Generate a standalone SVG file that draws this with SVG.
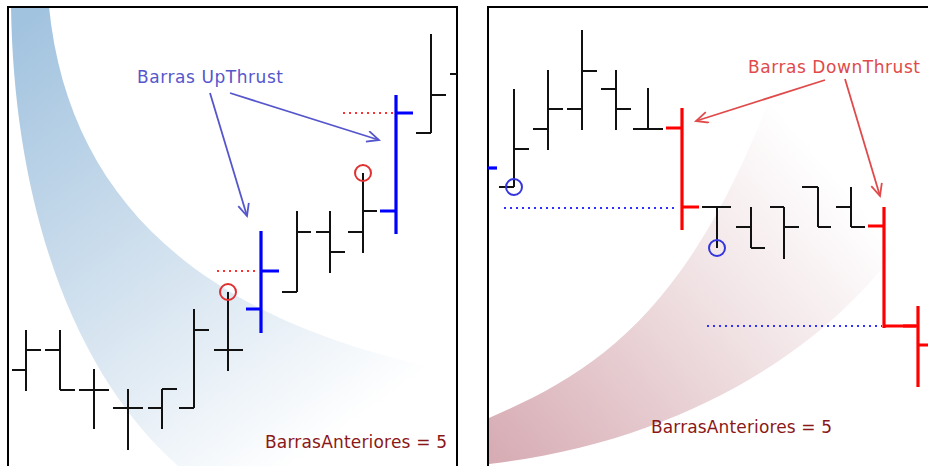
<svg xmlns="http://www.w3.org/2000/svg" width="928" height="466" viewBox="0 0 928 466">
<defs>
<linearGradient id="gBlue" gradientUnits="userSpaceOnUse" x1="30" y1="20" x2="330" y2="440">
<stop offset="0" stop-color="#a2c3df"/>
<stop offset="0.5" stop-color="#d0e0ee"/>
<stop offset="1" stop-color="#ffffff"/>
</linearGradient>
<linearGradient id="gRed" gradientUnits="userSpaceOnUse" x1="488" y1="466" x2="830" y2="170">
<stop offset="0" stop-color="#d6aab2"/>
<stop offset="0.6" stop-color="#f0e1e3"/>
<stop offset="1" stop-color="#ffffff"/>
</linearGradient>
<marker id="arrBlue" markerUnits="userSpaceOnUse" markerWidth="16" markerHeight="14" refX="13" refY="6" orient="auto">
<path d="M1,0.5 L13,6 L1,11.5" fill="none" stroke="#5656cc" stroke-width="1.8"/>
</marker>
<marker id="arrRed" markerUnits="userSpaceOnUse" markerWidth="16" markerHeight="14" refX="13" refY="6" orient="auto">
<path d="M1,0.5 L13,6 L1,11.5" fill="none" stroke="#e04a4a" stroke-width="1.8"/>
</marker>
</defs>
<style>
.bar{fill:none;stroke:#111;stroke-width:2}
.ub{fill:none;stroke:#0000ff;stroke-width:3.2}
.db{fill:none;stroke:#ff0000;stroke-width:3.2}
.frame{fill:none;stroke:#000;stroke-width:2}
.rdot{stroke:#ff3030;stroke-width:2;stroke-dasharray:2 4}
.bdot{stroke:#3030ff;stroke-width:2;stroke-dasharray:2 4}
.rc{fill:none;stroke:#e03030;stroke-width:2}
.bc{fill:none;stroke:#3535dd;stroke-width:2}
.lbl{font-family:"DejaVu Sans","Liberation Sans",sans-serif;font-size:17px}
.param{font-family:"DejaVu Sans","Liberation Sans",sans-serif;font-size:17px;fill:#8b1818}
.ab{fill:none;stroke:#5656cc;stroke-width:1.8}
.ar{fill:none;stroke:#e04a4a;stroke-width:1.8}
</style>
<rect x="0" y="0" width="928" height="466" fill="#ffffff"/>

<g id="left-panel">
<path d="M11,7 L49,7 C68,195 195,322 456,372 L456,466 L178,466 C70,370 14,200 11,7 Z" fill="url(#gBlue)"/>
<path class="frame" d="M8,466 L8,7 L457,7 L457,466"/>
</g>
<g id="right-panel">
<path d="M489,418 C600,370 690,310 775,85 L928,85 L928,200 C860,330 700,440 489,464 Z" fill="url(#gRed)"/>
<path class="frame" d="M488,466 L488,7 L928,7"/>
</g>

<g id="left-bars">
<path class="bar" d="M26,330V391M12,370H26M26,350H41"/>
<path class="bar" d="M60,330V390M45,350H60M60,390H75"/>
<path class="bar" d="M94,369V429M79,390H94M94,390H109"/>
<path class="bar" d="M128,389V450M113,408H128M128,408H143"/>
<path class="bar" d="M162,389V429M148,408H162M162,389H177"/>
<path class="bar" d="M194,309V408M179,408H194M194,330H209"/>
<path class="bar" d="M228,292V371M214,350H228M228,350H243"/>
<path class="bar" d="M297,211V292M282,292H297M297,232H311"/>
<path class="bar" d="M330,211V273M316,232H330M330,252H345"/>
<path class="bar" d="M363,173V253M348,232H363M363,211H377"/>
<path class="bar" d="M431,34V133M416,133H431M431,95H446"/>
<path class="bar" d="M450,74H457"/>
</g>
<g id="upthrust-bars">
<path class="ub" d="M261,231V333M246,309H261M261,271H279"/>
<path class="ub" d="M396,95V234M380,211H396M396,113H413"/>
</g>
<g id="left-marks">
<line class="rdot" x1="217" y1="271" x2="259" y2="271"/>
<line class="rdot" x1="343" y1="113" x2="394" y2="113"/>
<circle class="rc" cx="228" cy="292" r="8"/>
<circle class="rc" cx="363" cy="173" r="8"/>
</g>

<g id="right-bars">
<path class="ub" d="M488,168H497"/>
<path class="bar" d="M514,89V187M499,187H514M514,149H529"/>
<path class="bar" d="M548,70V150M533,129H548M548,109H563"/>
<path class="bar" d="M582,30V130M567,109H582M582,71H597"/>
<path class="bar" d="M616,70V130M601,89H616M616,109H631"/>
<path class="bar" d="M648,88V129M633,129H648M648,129H663"/>
<path class="bar" d="M717,207V248M702,207H717M717,207H731"/>
<path class="bar" d="M751,207V248M736,227H751M751,248H765"/>
<path class="bar" d="M784,207V259M770,207H784M784,227H799"/>
<path class="bar" d="M818,187V227M802,187H818M818,227H831"/>
<path class="bar" d="M851,187V227M836,207H851M851,227H865"/>
</g>
<g id="downthrust-bars">
<path class="db" d="M682,108V230M666,128H682M682,207H699"/>
<path class="db" d="M884,207V328M868,226H884M884,326H916"/>
<path class="db" d="M918,306V387M903,326H918M918,345H928"/>
</g>
<g id="right-marks">
<line class="bdot" x1="504" y1="208" x2="678" y2="208"/>
<line class="bdot" x1="707" y1="326" x2="882" y2="326"/>
<circle class="bc" cx="514" cy="187" r="8"/>
<circle class="bc" cx="717" cy="248" r="8"/>
</g>

<g id="connectors">
<line class="ab" x1="210" y1="93" x2="247" y2="216" marker-end="url(#arrBlue)"/>
<line class="ab" x1="230" y1="93" x2="379" y2="140" marker-end="url(#arrBlue)"/>
<line class="ar" x1="825" y1="80" x2="696" y2="121" marker-end="url(#arrRed)"/>
<line class="ar" x1="845" y1="79" x2="880" y2="196" marker-end="url(#arrRed)"/>
</g>

<g id="labels">
<text class="lbl" x="137" y="83" fill="#5656cc" textLength="146" lengthAdjust="spacing">Barras UpThrust</text>
<text class="lbl" x="748" y="73" fill="#e04a4a" textLength="172" lengthAdjust="spacing">Barras DownThrust</text>
<text class="param" x="265" y="448" textLength="182" lengthAdjust="spacing">BarrasAnteriores = 5</text>
<text class="param" x="651" y="433" textLength="181" lengthAdjust="spacing">BarrasAnteriores = 5</text>
</g>
</svg>
